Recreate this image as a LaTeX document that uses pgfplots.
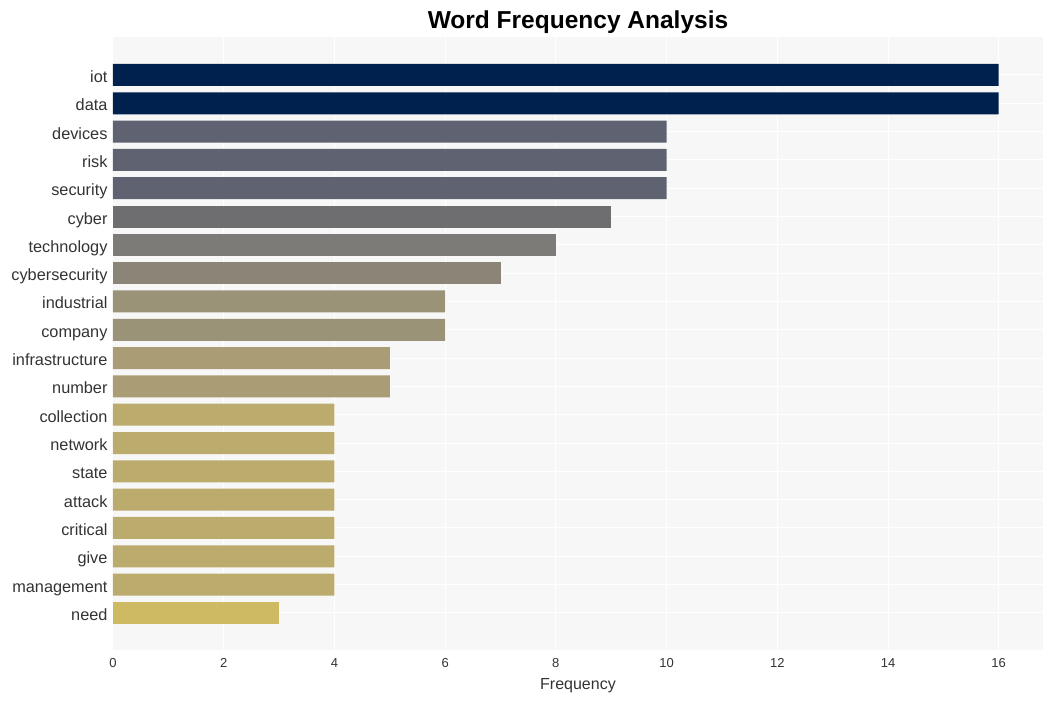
\documentclass[border=0pt]{standalone}
\usepackage{pgfplots}
\pgfplotsset{compat=1.18}
\usepackage{fontspec}
\setmainfont{Liberation Sans}
\definecolor{bg}{HTML}{F7F7F7}
\definecolor{txt}{HTML}{333333}
\definecolor{c16}{HTML}{00204E}
\definecolor{c10}{HTML}{5F6270}
\definecolor{c9}{HTML}{6E6E71}
\definecolor{c8}{HTML}{7D7B77}
\definecolor{c7}{HTML}{8B8577}
\definecolor{c6}{HTML}{9B9377}
\definecolor{c5}{HTML}{AA9C74}
\definecolor{c4}{HTML}{BBAC6E}
\definecolor{c3}{HTML}{CDBA62}
\begin{document}
\begin{tikzpicture}
\begin{axis}[
  scale only axis, width=930pt, height=613pt,
  xbar, bar width=22pt, bar shift=0pt,
  xmin=0, xmax=16.8, ymin=-1.34, ymax=20.31, y dir=reverse,
  axis background/.style={fill=bg}, axis line style={draw=none},
  major tick length=0pt,
  xmajorgrids, ymajorgrids, grid style={white, line width=1pt},
  xtick={0,2,...,16}, ytick={0,...,19},
  yticklabels={iot,data,devices,risk,security,cyber,technology,cybersecurity,industrial,company,infrastructure,number,collection,network,state,attack,critical,give,management,need},
  yticklabel style={font=\fontsize{16.3}{18}\selectfont, text=txt, xshift=-2pt, text height=11.5pt, text depth=3.5pt, yshift=-3.5pt},
  xticklabel style={font=\fontsize{13}{15}\selectfont, text=txt, yshift=-5pt},
  /pgf/number format/assume math mode=true,
  xlabel={Frequency}, xlabel style={font=\fontsize{16}{18}\selectfont, text=txt, yshift=-4pt},
  title={\textbf{Word Frequency Analysis}}, title style={font=\fontsize{24.5}{28}\selectfont, yshift=-6pt},
  every axis plot/.append style={draw=none},
]
\addplot[fill=c16] coordinates {(16,0) (16,1)};
\addplot[fill=c10] coordinates {(10,2) (10,3) (10,4)};
\addplot[fill=c9] coordinates {(9,5)};
\addplot[fill=c8] coordinates {(8,6)};
\addplot[fill=c7] coordinates {(7,7)};
\addplot[fill=c6] coordinates {(6,8) (6,9)};
\addplot[fill=c5] coordinates {(5,10) (5,11)};
\addplot[fill=c4] coordinates {(4,12) (4,13) (4,14) (4,15) (4,16) (4,17) (4,18)};
\addplot[fill=c3] coordinates {(3,19)};
\end{axis}
\path[use as bounding box] (-113pt,-51pt) rectangle (939pt,650pt);
\end{tikzpicture}
\end{document}
